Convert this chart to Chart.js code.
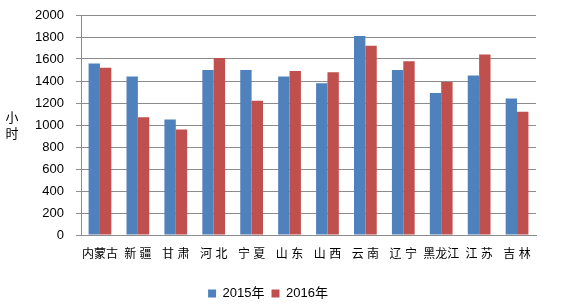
<!DOCTYPE html>
<html>
<head>
<meta charset="utf-8">
<script src="https://cdn.jsdelivr.net/npm/chart.js@4"></script>
<style>
  html, body { margin: 0; padding: 0; background: #fff; }
  #wrap { width: 565px; height: 306px; }
</style>
</head>
<body>
<div id="wrap"><canvas id="chart"></canvas></div>
<script>
// --- data ---
const provinces = ['内蒙古', '新 疆', '甘 肃', '河 北', '宁 夏', '山 东', '山 西', '云 南', '辽 宁', '黑龙江', '江 苏', '吉 林'];
const hours2015 = [1560, 1440, 1050, 1500, 1500, 1440, 1380, 1810, 1500, 1290, 1450, 1240];
const hours2016 = [1520, 1070, 960, 1610, 1220, 1490, 1480, 1720, 1580, 1390, 1640, 1120];
const yTitle = ['小', '时'];

const FONT = "'Liberation Sans', 'Noto Sans CJK SC', sans-serif";
const GRID = '#8c8c8c';

// vertical stacked axis title (one character per line)
const stackedTitle = {
  id: 'stackedTitle',
  afterDraw(chart) {
    const ctx = chart.ctx;
    ctx.save();
    ctx.font = "13px 'Noto Sans CJK SC', sans-serif";
    ctx.fillStyle = '#000';
    ctx.textAlign = 'center';
    ctx.textBaseline = 'middle';
    yTitle.forEach((ch, i) => ctx.fillText(ch, 12, 117 + i * 16));
    ctx.restore();
  }
};

new Chart(document.getElementById('chart'), {
  type: 'bar',
  data: {
    labels: provinces,
    datasets: [
      { label: '2015年', data: hours2015, backgroundColor: '#4f81bd' },
      { label: '2016年', data: hours2016, backgroundColor: '#c0504d' }
    ]
  },
  options: {
    responsive: true,
    maintainAspectRatio: false,
    animation: false,
    datasets: { bar: { barPercentage: 1.0, categoryPercentage: 0.6 } },
    layout: { padding: { top: 0, right: 29, bottom: -4, left: 0 } },
    plugins: {
      legend: {
        position: 'bottom',
        labels: {
          font: { family: FONT, size: 13 },
          color: '#000',
          boxWidth: 8,
          boxHeight: 8,
          padding: 7
        }
      },
      tooltip: { enabled: false }
    },
    scales: {
      x: {
        grid: { display: false, drawTicks: false },
        border: { color: GRID },
        ticks: { font: { family: FONT, size: 12 }, color: '#000', padding: 12, maxRotation: 0, autoSkip: false },
        afterFit(axis) { axis.height = 45; }
      },
      y: {
        min: 0,
        max: 2000,
        ticks: {
          stepSize: 200,
          font: { family: FONT, size: 13 },
          color: '#000',
          padding: 12,
          callback: (v) => String(v)
        },
        grid: { color: GRID, tickLength: 5 },
        border: { color: GRID },
        afterFit(axis) {
          axis.width = 81;
          axis.paddingTop = 15;
        }
      }
    }
  },
  plugins: [stackedTitle]
});
</script>
</body>
</html>
